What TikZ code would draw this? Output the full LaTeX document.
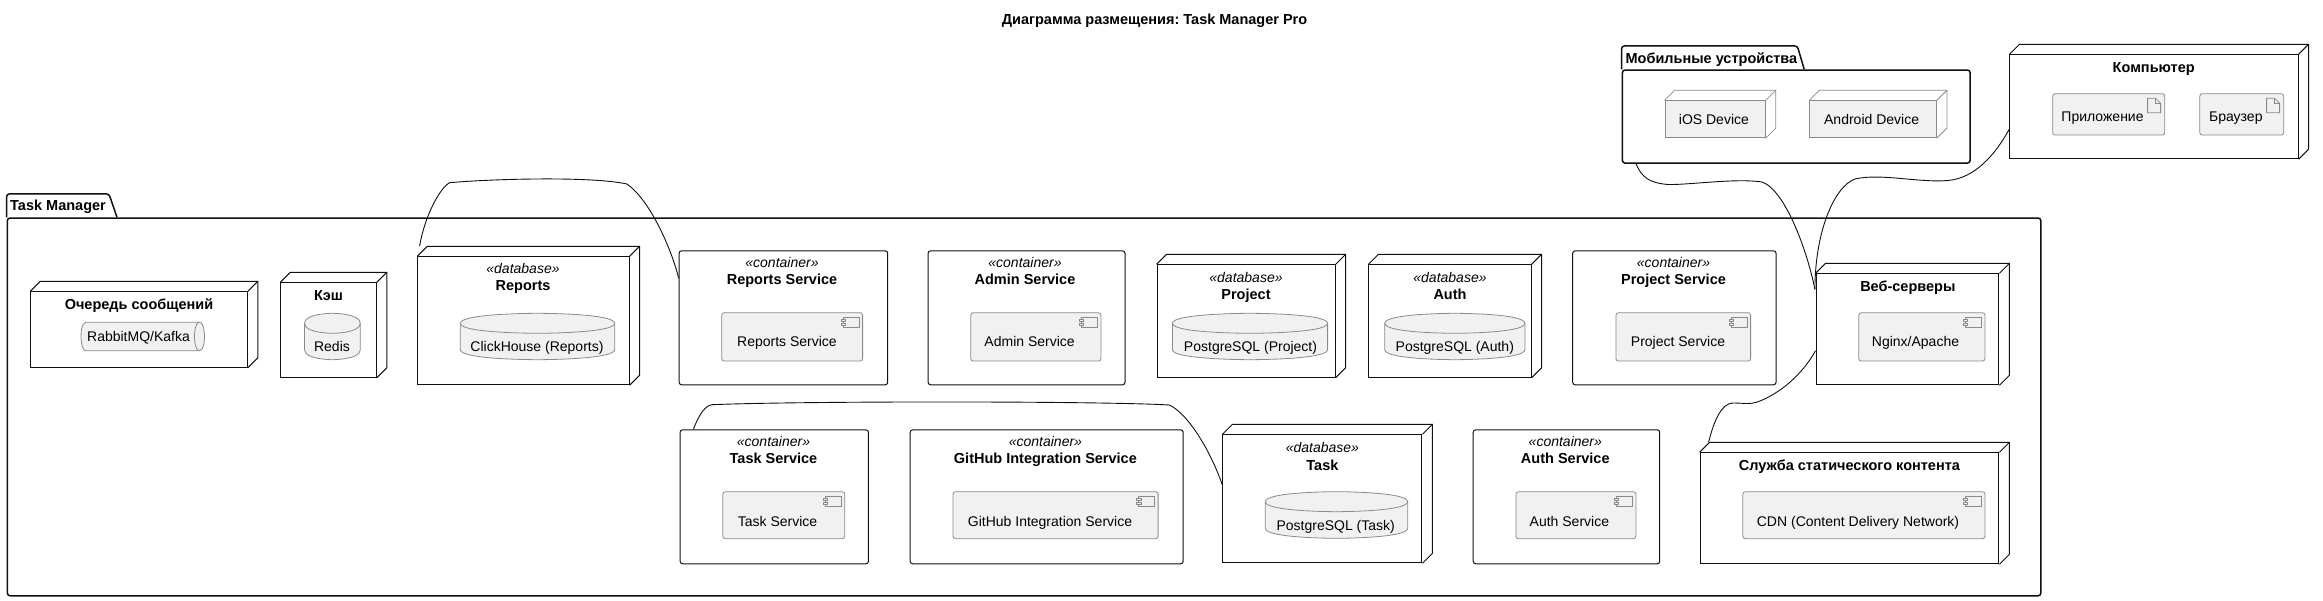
\documentclass[tikz,border=0pt]{standalone}
\usepackage{fontspec}
\setmainfont{Liberation Sans}
\usetikzlibrary{positioning}
\frenchspacing

\definecolor{boxline}{HTML}{101010}
\definecolor{itemline}{HTML}{8A8A8A}
\definecolor{itemfill}{HTML}{F1F1F1}

\tikzset{
    pkgbox/.style={draw=boxline, line width=1.5pt, rounded corners=2.5pt, anchor=north west, inner sep=0pt},
    pkgtab/.style={draw=boxline, line width=1.5pt, rounded corners=2.5pt},
    nodebox/.style={draw=boxline, line width=1pt, anchor=north west, inner sep=0pt},
    nodeside/.style={draw=boxline, line width=1pt},
    containerbox/.style={draw=boxline, line width=1pt, rounded corners=2.5pt, anchor=north west, inner sep=0pt},
    itembox/.style={draw=itemline, fill=itemfill, line width=.8pt, rounded corners=2.5pt, anchor=north west, inner sep=0pt},
    devicebox/.style={draw=itemline, fill=itemfill, line width=.8pt, anchor=north west, inner sep=0pt},
    itemside/.style={draw=itemline, line width=.8pt},
    itemshape/.style={draw=itemline, fill=itemfill, line width=.8pt},
    link/.style={draw=boxline, line width=.9pt},
    labeltext/.style={inner sep=0pt, text height=10pt, text depth=0pt},
    titletext/.style={labeltext, font=\fontsize{14.5}{16}\selectfont\bfseries},
    stereotext/.style={labeltext, font=\fontsize{14}{16}\selectfont\itshape},
    itemtext/.style={labeltext, font=\fontsize{14}{16}\selectfont}
}

% side faces of a deployment box
\newcommand{\boxdepth}[2]{
    \draw[#2] (#1.north west) -- ++(10,-10) -- ([shift={(10,-10)}]#1.north east) -- ([shift={(10,-10)}]#1.south east) -- (#1.south east);
    \draw[#2] (#1.north east) -- ++(10,-10);
}
% database cylinder: x, y, width, height
\newcommand{\dbshape}[4]{
    \draw[itemshape, shift={(#1,#2)}] (0,10) .. controls (0,0) and ({#3/2},0) .. ({#3/2},0) .. controls ({#3/2},0) and (#3,0) .. (#3,10)
        -- (#3,{#4-10}) .. controls (#3,#4) and ({#3/2},#4) .. ({#3/2},#4) .. controls ({#3/2},#4) and (0,#4) .. (0,{#4-10}) -- cycle;
    \draw[itemside, shift={(#1,#2)}] (0,10) .. controls (0,20) and ({#3/2},20) .. ({#3/2},20) .. controls ({#3/2},20) and (#3,20) .. (#3,10);
}
% small component icon in the corner of an item
\newcommand{\compicon}[1]{
    \draw[itemside, shift={(#1.north east)}] (-20,5) rectangle (-4,15.5);
    \draw[itemside, fill=itemfill, shift={(#1.north east)}] (-22,7.5) rectangle (-17.5,9.5);
    \draw[itemside, fill=itemfill, shift={(#1.north east)}] (-22,11) rectangle (-17.5,13);
}
% small page icon in the corner of an artifact
\newcommand{\pageicon}[1]{
    \draw[itemside, shift={(#1.north east)}] (-17.5,5) -- (-17.5,19.5) -- (-4.5,19.5) -- (-4.5,10) -- (-9.5,5) -- cycle;
    \draw[itemside, shift={(#1.north east)}] (-9.5,5) -- (-9.5,10) -- (-4.5,10);
}

\begin{document}
\begin{tikzpicture}[x=1pt, y=-1pt]
    \useasboundingbox (0,0) rectangle (2323,601);

    \node[titletext] (diagramTitle) at (1154.5,20) {Диаграмма размещения: Task Manager Pro};

    % Task Manager package
    \draw[pkgtab] (6.7,217.3) -- (6.7,194) -- (109,194) -- (117,217.3);
    \node[pkgbox, minimum width=2033.3pt, minimum height=377.7pt] (taskManager) at (6.7,217.3) {};
    \node[titletext, anchor=west] (taskManagerTitle) at (10,206) {Task Manager};

    % queue
    \node[nodebox, minimum width=216.5pt, minimum height=75.4pt] (queueNode) at (30.4,291.3) {};
    \boxdepth{queueNode}{nodeside}
    \node[titletext] (queueTitle) at (139,304.3) {Очередь сообщений};
    \draw[itemshape, shift={(81,322.3)}] (5,0) -- (118.5,0) .. controls (123.5,0) and (123.5,14.2) .. (123.5,14.2) .. controls (123.5,28.4) and (118.5,28.4) .. (118.5,28.4)
        -- (5,28.4) .. controls (0,28.4) and (0,14.2) .. (0,14.2) .. controls (0,0) and (5,0) .. (5,0) -- cycle;
    \draw[itemside, shift={(81,322.3)}] (118.5,0) .. controls (113.5,0) and (113.5,14.2) .. (113.5,14.2) .. controls (113.5,28.4) and (118.5,28.4) .. (118.5,28.4);
    \node[itemtext] (queueItem) at (138.5,337) {RabbitMQ/Kafka};

    % cache
    \node[nodebox, minimum width=95.5pt, minimum height=94.4pt] (cacheNode) at (280.4,282.3) {};
    \boxdepth{cacheNode}{nodeside}
    \node[titletext] (cacheTitle) at (328.6,295.3) {Кэш};
    \dbshape{304.5}{313.3}{55.8}{46.4}
    \node[itemtext] (redisItem) at (332,347) {Redis};

    % databases
    \node[nodebox, minimum width=211.2pt, minimum height=128pt] (reportsDb) at (417.4,256.3) {};
    \boxdepth{reportsDb}{nodeside}
    \node[stereotext] (reportsDbStereo) at (523,269) {«database»};
    \node[titletext] (reportsDbTitle) at (523,286) {Reports};
    \dbshape{460.3}{313.3}{154.4}{46.4}
    \node[itemtext] (clickhouseItem) at (537,347) {ClickHouse (Reports)};

    \node[nodebox, minimum width=178.1pt, minimum height=112.4pt] (projectDb) at (1156.6,264.3) {};
    \boxdepth{projectDb}{nodeside}
    \node[stereotext] (projectDbStereo) at (1246,277.3) {«database»};
    \node[titletext] (projectDbTitle) at (1246,294.3) {Project};
    \dbshape{1172.4}{313.3}{155.2}{46.4}
    \node[itemtext] (projectItem) at (1250.5,347) {PostgreSQL (Project)};

    \node[nodebox, minimum width=162.2pt, minimum height=112.4pt] (authDb) at (1368.4,264.3) {};
    \boxdepth{authDb}{nodeside}
    \node[stereotext] (authDbStereo) at (1450,277.3) {«database»};
    \node[titletext] (authDbTitle) at (1450,294.3) {Auth};
    \dbshape{1384.7}{313.3}{140.2}{46.4}
    \node[itemtext] (authItem) at (1454.8,347) {PostgreSQL (Auth)};

    \node[nodebox, minimum width=199pt, minimum height=128pt] (taskDb) at (1222.4,434.3) {};
    \boxdepth{taskDb}{nodeside}
    \node[stereotext] (taskDbStereo) at (1322.4,447.3) {«database»};
    \node[titletext] (taskDbTitle) at (1322.4,465) {Task};
    \dbshape{1265.3}{491.7}{142.4}{46.6}
    \node[itemtext] (taskItem) at (1335.7,525) {PostgreSQL (Task)};

    % containers, top row
    \node[containerbox, minimum width=208.6pt, minimum height=134pt] (reportsSvc) at (678.6,250.3) {};
    \node[stereotext] (reportsSvcStereo) at (782,262.3) {«container»};
    \node[titletext] (reportsSvcTitle) at (782,280) {Reports Service};
    \node[itembox, minimum width=140.8pt, minimum height=48.4pt] (reportsComp) at (721.4,312.3) {};
    \compicon{reportsComp}
    \node[itemtext] (reportsCompText) at (787,342) {Reports Service};

    \node[containerbox, minimum width=196.9pt, minimum height=134pt] (adminSvc) at (927.6,250.3) {};
    \node[stereotext] (adminSvcStereo) at (1025,262.3) {«container»};
    \node[titletext] (adminSvcTitle) at (1025,280) {Admin Service};
    \node[itembox, minimum width=130.1pt, minimum height=48.4pt] (adminComp) at (970.4,312.3) {};
    \compicon{adminComp}
    \node[itemtext] (adminCompText) at (1029.6,342) {Admin Service};

    \node[containerbox, minimum width=203.3pt, minimum height=134pt] (projectSvc) at (1572.2,250.3) {};
    \node[stereotext] (projectSvcStereo) at (1673.5,262.3) {«container»};
    \node[titletext] (projectSvcTitle) at (1673.5,280) {Project Service};
    \node[itembox, minimum width=134.7pt, minimum height=48.4pt] (projectComp) at (1615.5,312.3) {};
    \compicon{projectComp}
    \node[itemtext] (projectCompText) at (1678,342) {Project Service};

    % containers, bottom row
    \node[containerbox, minimum width=188.3pt, minimum height=134pt] (taskSvc) at (679.6,429.3) {};
    \node[stereotext] (taskSvcStereo) at (773.5,441.3) {«container»};
    \node[titletext] (taskSvcTitle) at (773.5,458.3) {Task Service};
    \node[itembox, minimum width=122pt, minimum height=47pt] (taskComp) at (722.4,491.3) {};
    \compicon{taskComp}
    \node[itemtext] (taskCompText) at (777.6,521) {Task Service};

    \node[containerbox, minimum width=273pt, minimum height=134pt] (githubSvc) at (909.7,429.3) {};
    \node[stereotext] (githubSvcStereo) at (1045.4,441.3) {«container»};
    \node[titletext] (githubSvcTitle) at (1045.4,458.3) {GitHub Integration Service};
    \node[itembox, minimum width=205.1pt, minimum height=47pt] (githubComp) at (952.6,491.3) {};
    \compicon{githubComp}
    \node[itemtext] (githubCompText) at (1050,521) {GitHub Integration Service};

    \node[containerbox, minimum width=186.5pt, minimum height=134pt] (authSvc) at (1472.7,429.3) {};
    \node[stereotext] (authSvcStereo) at (1565.3,441.3) {«container»};
    \node[titletext] (authSvcTitle) at (1565.3,458.3) {Auth Service};
    \node[itembox, minimum width=120pt, minimum height=47pt] (authComp) at (1515.5,491.3) {};
    \compicon{authComp}
    \node[itemtext] (authCompText) at (1569.4,521) {Auth Service};

    % web and static content
    \node[nodebox, minimum width=182.9pt, minimum height=111pt] (webNode) at (1815.5,273.3) {};
    \boxdepth{webNode}{nodeside}
    \node[titletext] (webTitle) at (1907.8,286.3) {Веб-серверы};
    \node[itembox, minimum width=126.1pt, minimum height=48.4pt] (webComp) at (1858.4,312.3) {};
    \compicon{webComp}
    \node[itemtext] (webCompText) at (1915.5,342) {Nginx/Apache};

    \node[nodebox, minimum width=298.8pt, minimum height=111pt] (cdnNode) at (1699.6,452.3) {};
    \boxdepth{cdnNode}{nodeside}
    \node[titletext] (cdnTitle) at (1849.4,465) {Служба статического контента};
    \node[itembox, minimum width=242.1pt, minimum height=47pt] (cdnComp) at (1742.4,491.3) {};
    \compicon{cdnComp}
    \node[itemtext] (cdnCompText) at (1858,521) {CDN (Content Delivery Network)};

    % mobile devices package
    \draw[pkgtab] (1621.7,69.3) -- (1621.7,46) -- (1797.3,46) -- (1804.2,69.3);
    \node[pkgbox, minimum width=347.6pt, minimum height=93pt] (mobilePkg) at (1621.7,69.3) {};
    \node[titletext, anchor=west] (mobileTitle) at (1625.4,58.3) {Мобильные устройства};
    \node[devicebox, minimum width=100.5pt, minimum height=37pt] (iosNode) at (1664.5,100.3) {};
    \boxdepth{iosNode}{itemside}
    \node[itemtext] (iosText) at (1713.9,120) {iOS Device};
    \node[devicebox, minimum width=126.8pt, minimum height=37pt] (androidNode) at (1809.3,100.3) {};
    \boxdepth{androidNode}{itemside}
    \node[itemtext] (androidText) at (1871.6,120) {Android Device};

    % computer
    \node[nodebox, minimum width=288.2pt, minimum height=104pt] (pcNode) at (2009.4,54.3) {};
    \boxdepth{pcNode}{nodeside}
    \node[titletext] (pcTitle) at (2153.7,67.3) {Компьютер};
    \node[itembox, minimum width=112pt, minimum height=41.4pt] (appItem) at (2052.3,93.3) {};
    \pageicon{appItem}
    \node[itemtext] (appText) at (2102.5,116.3) {Приложение};
    \node[itembox, minimum width=83.9pt, minimum height=41.4pt] (browserItem) at (2199.4,93.3) {};
    \pageicon{browserItem}
    \node[itemtext] (browserText) at (2235.8,116.3) {Браузер};

    % connectors
    \draw[link] ([shift={(2.2,-10.3)}]reportsDb.north west) .. controls (425,215) and (440,188) .. (449.6,182.7)
        .. controls (490,179) and (590,176) .. (627,184) .. controls (650,200) and (672,250) .. ([shift={(0,28)}]reportsSvc.north west);
    \draw[link] ([shift={(13.8,0)}]taskSvc.north west) .. controls (700,412) and (706,405.5) .. (712.2,404.7)
        .. controls (800,401) and (1100,401) .. (1169.4,405) .. controls (1190,415) and (1212,455) .. ([shift={(0,50.7)}]taskDb.north west);
    \draw[link] ([shift={(9,-10)}]cdnNode.north west) .. controls (1714,420) and (1722,403) .. (1733,403)
        .. controls (1745,403) and (1750,405) .. (1760,401) .. controls (1780,393) and (1802,375) .. ([shift={(0,77.4)}]webNode.north west);
    \draw[link] ([shift={(14.3,0)}]mobilePkg.south west) .. controls (1642,178) and (1650,183) .. (1668,184.5)
        .. controls (1690,185) and (1735,178) .. (1762,182) .. controls (1785,190) and (1807,250) .. ([shift={(-.6,16)}]webNode.north west);
    \draw[link] ([shift={(0,74.7)}]pcNode.north west) .. controls (1995,155) and (1975,178) .. (1948,180.5)
        .. controls (1920,183) and (1880,173) .. (1855,179) .. controls (1835,186) and (1815,230) .. ([shift={(-.6,16)}]webNode.north west);
\end{tikzpicture}
\end{document}
